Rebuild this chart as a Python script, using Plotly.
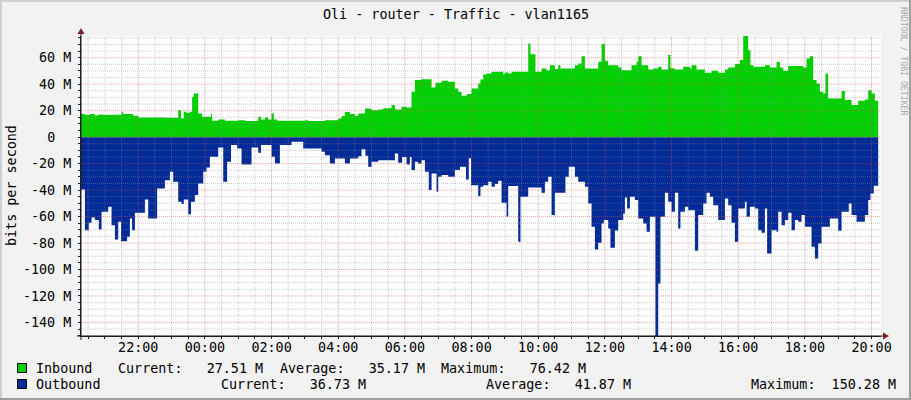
import pandas as pd
import plotly.graph_objects as go

# ---------------- data ----------------
title_text = "Oli - router - Traffic - vlan1165"
y_title = "bits per second"
watermark = "RRDTOOL / TOBI OETIKER"
start_time = "2024-01-01 20:17"
span_hours = 24

series_names = ["Inbound", "Outbound"]
series_colors = ["#00CF00", "#002A97"]

# inbound: minutes after start, value in Mbit/s (step changes)
in_min = [0, 7, 16, 25, 31, 37, 73, 76, 94, 103, 151, 175, 180, 185, 190, 196, 200, 203, 211, 218,
          234, 236, 247, 259, 283, 295, 319, 324, 331, 337, 343, 347, 353, 403, 409, 439, 463, 469,
          475, 484, 493, 499, 511, 523, 535, 544, 559, 565, 577, 586, 595, 601, 613, 631, 638, 649,
          661, 673, 679, 685, 694, 703, 715, 719, 724, 730, 739, 760, 763, 769, 775, 805, 809, 818,
          829, 838, 844, 853, 859, 863, 889, 895, 901, 907, 931, 937, 943, 949, 967, 973, 991, 1000,
          1003, 1009, 1021, 1030, 1039, 1045, 1057, 1061, 1069, 1084, 1096, 1099, 1108, 1123, 1135,
          1147, 1159, 1165, 1177, 1186, 1192, 1201, 1205, 1210, 1231, 1240, 1252, 1258, 1264, 1273,
          1300, 1306, 1312, 1318, 1324, 1330, 1336, 1340, 1345, 1369, 1375, 1387, 1399, 1411, 1417,
          1423, 1429, 1435]
in_val = [17.4, 16.9, 17.4, 16.4, 17.1, 16.9, 19.1, 17.4, 16.1, 14.9, 14.6, 20.4, 14.1, 19.1, 18.4,
          19.1, 30.5, 33.0, 17.9, 15.4, 17.4, 12.3, 13.4, 12.3, 12.8, 12.1, 15.4, 13.4, 14.9, 13.4,
          17.9, 13.4, 12.3, 12.8, 12.1, 12.8, 14.1, 15.9, 18.9, 17.4, 15.9, 17.9, 21.7, 20.4, 20.9,
          21.9, 24.2, 20.9, 22.9, 22.4, 34.3, 43.1, 43.8, 37.5, 41.1, 42.6, 41.8, 36.8, 34.3, 31.2,
          32.5, 36.8, 40.6, 43.6, 47.4, 48.1, 49.4, 47.6, 48.9, 48.1, 49.4, 70.8, 62.7, 49.4, 51.9,
          50.6, 54.4, 51.4, 54.4, 51.9, 54.4, 55.7, 61.2, 51.9, 56.9, 70.3, 57.7, 54.4, 52.6, 50.6,
          54.4, 56.9, 61.2, 54.4, 51.1, 51.9, 53.1, 51.1, 62.0, 52.1, 51.1, 53.1, 51.9, 54.4, 51.1,
          48.6, 50.1, 48.6, 51.1, 52.6, 55.2, 58.2, 76.4, 65.7, 54.4, 53.1, 54.4, 52.6, 56.7, 52.6,
          50.1, 53.7, 52.6, 59.4, 61.2, 43.1, 40.6, 34.3, 33.0, 48.1, 29.2, 34.8, 28.0, 24.2, 27.5,
          28.5, 35.5, 33.0, 27.5, 27.5]

# outbound: minutes after start, value in Mbit/s (drawn below zero)
out_min = [0, 7, 14, 19, 25, 32, 37, 49, 55, 61, 67, 72, 83, 88, 92, 97, 115, 121, 137, 151, 160,
           166, 175, 181, 185, 193, 198, 205, 211, 220, 226, 232, 247, 256, 263, 270, 281, 289, 307,
           319, 324, 343, 349, 358, 379, 400, 433, 439, 448, 457, 475, 484, 499, 505, 512, 517, 523,
           535, 565, 571, 578, 586, 592, 595, 601, 607, 613, 619, 626, 631, 640, 643, 649, 661, 673,
           682, 693, 698, 702, 715, 719, 724, 733, 739, 745, 751, 757, 766, 769, 787, 791, 805, 829,
           835, 841, 847, 853, 872, 878, 889, 895, 907, 913, 919, 925, 931, 937, 941, 949, 953, 961,
           967, 976, 979, 983, 988, 997, 1003, 1012, 1018, 1024, 1034, 1039, 1043, 1051, 1057, 1063,
           1069, 1075, 1079, 1087, 1093, 1105, 1111, 1120, 1126, 1132, 1138, 1147, 1159, 1165, 1171,
           1177, 1183, 1195, 1198, 1204, 1213, 1219, 1225, 1231, 1235, 1243, 1252, 1255, 1261, 1267,
           1273, 1279, 1285, 1291, 1297, 1303, 1315, 1321, 1327, 1333, 1348, 1363, 1369, 1382, 1387,
           1396, 1411, 1417, 1421, 1427, 1435]
out_val = [39.5, 70.3, 64.7, 60.7, 62.7, 69.8, 56.4, 52.6, 66.5, 77.3, 64.0, 78.6, 75.3, 61.5, 70.3,
           57.2, 47.1, 61.5, 38.8, 32.5, 26.2, 33.8, 48.9, 50.6, 47.1, 58.2, 48.9, 43.8, 35.0, 26.2,
           22.9, 14.9, 7.8, 33.8, 18.6, 6.0, 8.6, 20.7, 7.8, 11.8, 6.0, 14.9, 19.9, 6.0, 3.5, 8.6,
           11.0, 13.6, 19.9, 16.1, 19.9, 16.1, 14.4, 9.1, 14.0, 22.4, 18.6, 17.4, 12.3, 19.4, 15.0,
           20.7, 15.0, 24.9, 18.6, 19.9, 17.4, 26.2, 40.0, 27.5, 41.3, 30.0, 28.7, 30.0, 24.9, 22.4,
           32.0, 16.0, 36.3, 44.6, 37.5, 36.3, 33.8, 37.5, 35.5, 33.0, 49.6, 60.2, 37.0, 79.1, 45.0,
           38.0, 42.0, 33.8, 30.0, 58.9, 42.0, 30.0, 22.4, 30.0, 33.8, 37.5, 50.1, 67.8, 84.9, 79.8,
           65.2, 62.7, 69.0, 83.6, 70.5, 62.7, 57.7, 45.6, 53.9, 45.0, 47.6, 61.5, 65.2, 71.5, 60.2,
           150.28, 110.6, 60.2, 42.0, 48.9, 56.4, 42.0, 69.0, 56.4, 52.6, 55.2, 85.9, 58.9, 50.1,
           42.0, 45.0, 51.4, 62.7, 46.3, 51.4, 64.7, 79.1, 53.9, 48.9, 60.2, 52.6, 53.9, 70.3, 72.3,
           53.9, 87.9, 70.3, 71.5, 56.4, 66.5, 62.7, 57.2, 70.3, 62.7, 64.0, 58.9, 67.8, 82.9, 91.7,
           80.4, 67.8, 61.5, 70.8, 56.4, 50.1, 58.9, 64.0, 58.9, 47.6, 42.6, 36.7, 36.7]

x_tick_labels = ["22:00", "00:00", "02:00", "04:00", "06:00", "08:00",
                 "10:00", "12:00", "14:00", "16:00", "18:00", "20:00"]
y_tick_vals = [-140, -120, -100, -80, -60, -40, -20, 0, 20, 40, 60]
y_tick_labels = ["-140 M", "-120 M", "-100 M", "-80 M", "-60 M", "-40 M", "-20 M",
                 "0\u00a0\u00a0", "20 M", "40 M", "60 M"]
y_min, y_max = -150.28, 76.42

stat_names = ["Current:", "Average:", "Maximum:"]
in_stats = ["27.51 M", "35.17 M", "76.42 M"]
out_stats = ["36.73 M", "41.87 M", "150.28 M"]

# ---------------- styling / layout helpers ----------------
W, H = 911, 400
PL, PR, PT, PB = 81, 881, 36, 336
FONT = "DejaVu Sans Mono"
FS = 13.4


def px(x):
    return (x - PL) / (PR - PL)


def py(y):
    return (PB - y) / (PB - PT)


t0 = pd.Timestamp(start_time)
t1 = t0 + pd.Timedelta(hours=span_hours)
in_x = t0 + pd.to_timedelta(in_min, unit="min")
out_x = t0 + pd.to_timedelta(out_min, unit="min")

fig = go.Figure()
fig.add_trace(go.Scatter(x=in_x, y=in_val, mode="lines", line=dict(width=0, color=series_colors[0], shape="hv"),
                         fill="tozeroy", fillcolor=series_colors[0], hoverinfo="skip"))
fig.add_trace(go.Scatter(x=out_x, y=[-v for v in out_val], mode="lines",
                         line=dict(width=0, color=series_colors[1], shape="hv"),
                         fill="tozeroy", fillcolor=series_colors[1], hoverinfo="skip"))

# grid drawn above the areas (as in rrdtool)
minor_x, minor_y, major_x, major_y = [], [], [], []
t = t0.ceil("30min")
while t <= t1:
    if t.minute == 0 and t.hour % 2 == 0:
        major_x += [t, t, None]; major_y += [y_min, y_max, None]
    else:
        minor_x += [t, t, None]; minor_y += [y_min, y_max, None]
    t += pd.Timedelta(minutes=30)
for v in range(-150, 80, 5):
    if v < y_min or v > y_max:
        continue
    if v % 20 == 0:
        major_x += [t0, t1, None]; major_y += [v, v, None]
    else:
        minor_x += [t0, t1, None]; minor_y += [v, v, None]

fig.add_trace(go.Scatter(x=minor_x, y=minor_y, mode="lines", hoverinfo="skip",
                         line=dict(color="rgba(143,143,143,0.45)", width=1, dash="1px,1px")))
fig.add_trace(go.Scatter(x=major_x, y=major_y, mode="lines", hoverinfo="skip",
                         line=dict(color="rgba(222,79,79,0.5)", width=1, dash="1px,1px")))

first_tick = t0.ceil("2h")
tick_vals = [first_tick + pd.Timedelta(hours=2 * i) for i in range(len(x_tick_labels))]
minor_ticks = []
t = t0.ceil("30min")
while t <= t1:
    minor_ticks.append(t)
    t += pd.Timedelta(minutes=30)

AX = "#1F1F1F"
fig.update_layout(
    width=W, height=H,
    margin=dict(l=PL, r=W - PR, t=PT, b=H - PB, pad=0),
    paper_bgcolor="#F2F2F2", plot_bgcolor="#FFFFFF",
    showlegend=False,
    font=dict(family=FONT, size=FS, color="#000000"),
    xaxis=dict(type="date", range=[t0, t1], showgrid=False, zeroline=False,
               showline=True, linecolor=AX, linewidth=1,
               ticks="outside", ticklen=2, tickcolor=AX,
               tickmode="array", tickvals=tick_vals, ticktext=x_tick_labels,
               tickfont=dict(family=FONT, size=FS), ticklabelstandoff=-3,
               minor=dict(tickmode="array", tickvals=minor_ticks, ticks="outside", ticklen=2,
                          tickcolor=AX, showgrid=False)),
    yaxis=dict(range=[y_min, y_max], showgrid=False, zeroline=False,
               showline=True, linecolor=AX, linewidth=1,
               ticks="outside", ticklen=2, tickcolor=AX,
               tickmode="array", tickvals=y_tick_vals, ticktext=y_tick_labels,
               tickfont=dict(family=FONT, size=FS), ticklabelstandoff=4,
               minor=dict(dtick=5, tick0=0, ticks="outside", ticklen=2, tickcolor=AX, showgrid=False)),
)

ARROW = "#801F1F"
shapes = [
    # outer frame (rrdtool shade A / shade B)
    dict(type="line", xref="paper", yref="paper", x0=px(0), x1=px(W), y0=py(1), y1=py(1),
         line=dict(color="#CFCFCF", width=2)),
    dict(type="line", xref="paper", yref="paper", x0=px(1), x1=px(1), y0=py(0), y1=py(H),
         line=dict(color="#CFCFCF", width=2)),
    dict(type="line", xref="paper", yref="paper", x0=px(0), x1=px(W), y0=py(H - 1), y1=py(H - 1),
         line=dict(color="#9E9E9E", width=2)),
    dict(type="line", xref="paper", yref="paper", x0=px(W - 1), x1=px(W - 1), y0=py(0), y1=py(H),
         line=dict(color="#9E9E9E", width=2)),
    # axis extensions and arrows
    dict(type="line", xref="paper", yref="paper", x0=px(77), x1=px(885), y0=0, y1=0,
         line=dict(color=AX, width=1)),
    dict(type="line", xref="paper", yref="paper", x0=0, x1=0, y0=py(340), y1=py(32),
         line=dict(color=AX, width=1)),
    dict(type="path", xref="paper", yref="paper",
         path=f"M {px(77.5)},{py(34)} L {px(84.5)},{py(34)} L {px(81)},{py(28)} Z",
         fillcolor=ARROW, line=dict(width=0)),
    dict(type="path", xref="paper", yref="paper",
         path=f"M {px(883)},{py(332.5)} L {px(883)},{py(339.5)} L {px(889)},{py(336)} Z",
         fillcolor=ARROW, line=dict(width=0)),
]

# legend boxes
for i, c in enumerate(series_colors):
    yc = 368 + 16 * i
    shapes.append(dict(type="rect", xref="paper", yref="paper",
                       x0=px(17.5), x1=px(26.5), y0=py(yc - 4.5), y1=py(yc + 4.5),
                       fillcolor=c, line=dict(color="#000000", width=1)))
fig.update_layout(shapes=shapes)


def note(x, y, text, size=FS, color="#000000", xanchor="left", angle=0):
    fig.add_annotation(xref="paper", yref="paper", x=px(x), y=py(y), text=text.replace(" ", "\u00a0"),
                       showarrow=False, xanchor=xanchor, yanchor="middle", textangle=angle,
                       borderpad=0, font=dict(family=FONT, size=size, color=color))


note(456, 14, title_text, xanchor="center")
note(11, 186, y_title, xanchor="center", angle=-90)
note(904, 61, watermark, size=8.2, color="#A8A8A8", xanchor="center", angle=90)

row_x = [[116.7, 279, 440.4], [219.6, 485, 749.6]]
stats = [in_stats, out_stats]
for i, name in enumerate(series_names):
    yc = 368 + 16 * i
    note(35, yc, name)
    for j, s in enumerate(stat_names):
        note(row_x[i][j], yc, f"{s}  {stats[i][j]:>8}")

fig.write_html("out.html", config={"displayModeBar": False, "staticPlot": True},
               post_script="document.body.style.margin='0';document.body.style.padding='0';")
